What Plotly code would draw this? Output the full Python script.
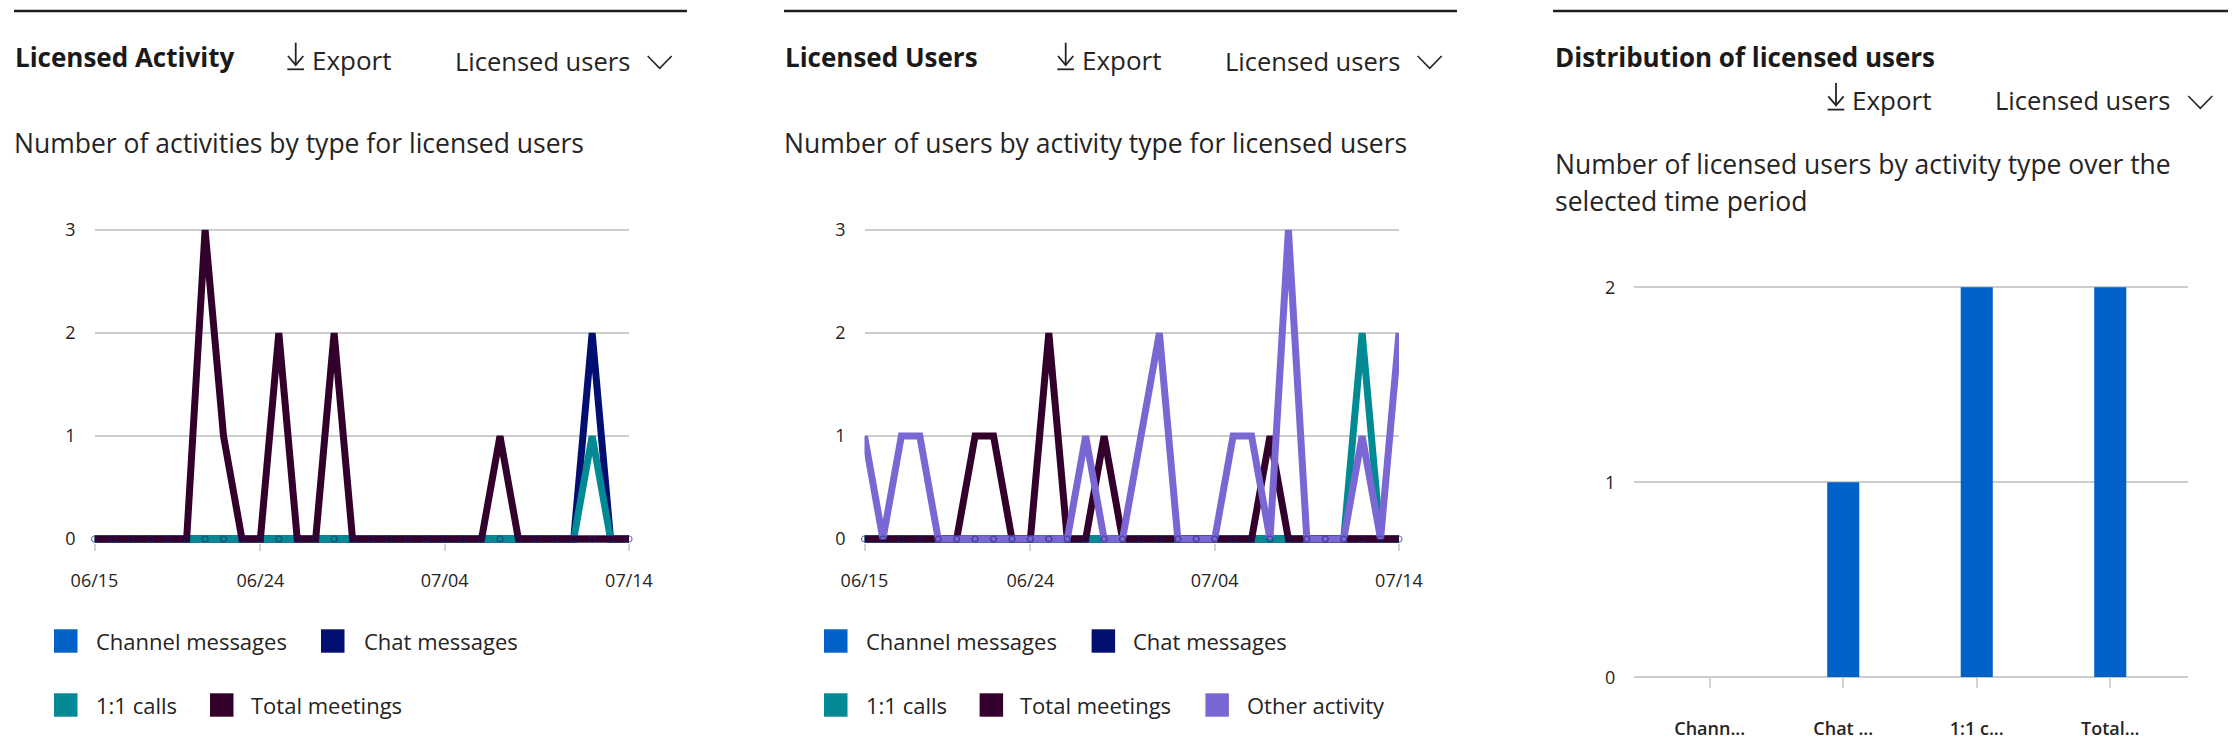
import plotly.graph_objects as go

W, H = 2239, 753
FONT = "Open Sans"
TXT = "#252423"
GRID = "#CDCDCD"

# ---------------- data ----------------
dates = [
    "2023-06-15", "2023-06-16", "2023-06-17", "2023-06-18", "2023-06-19", "2023-06-20",
    "2023-06-21", "2023-06-22", "2023-06-23", "2023-06-24", "2023-06-25", "2023-06-26",
    "2023-06-27", "2023-06-28", "2023-06-29", "2023-06-30", "2023-07-01", "2023-07-02",
    "2023-07-03", "2023-07-04", "2023-07-05", "2023-07-06", "2023-07-07", "2023-07-08",
    "2023-07-09", "2023-07-10", "2023-07-11", "2023-07-12", "2023-07-13", "2023-07-14",
]
tick_dates = ["2023-06-15", "2023-06-24", "2023-07-04", "2023-07-14"]
tick_labels = ["06/15", "06/24", "07/04", "07/14"]

# Licensed Activity (number of activities)
act_channel = [0, 0, 0, 0, 0, 0, 0, 0, 0, 0, 0, 0, 0, 0, 0, 0, 0, 0, 0, 0, 0, 0, 0, 0, 0, 0, 0, 0, 0, 0]
act_chat = [0, 0, 0, 0, 0, 0, 0, 0, 0, 0, 0, 0, 0, 0, 0, 0, 0, 0, 0, 0, 0, 0, 0, 0, 0, 0, 0, 2, 0, 0]
act_calls = [0, 0, 0, 0, 0, 0, 0, 0, 0, 0, 0, 0, 0, 0, 0, 0, 0, 0, 0, 0, 0, 0, 0, 0, 0, 0, 0, 1, 0, 0]
act_meetings = [0, 0, 0, 0, 0, 0, 3, 1, 0, 0, 2, 0, 0, 2, 0, 0, 0, 0, 0, 0, 0, 0, 1, 0, 0, 0, 0, 0, 0, 0]

# Licensed Users (number of users)
usr_channel = [0, 0, 0, 0, 0, 0, 0, 0, 0, 0, 0, 0, 0, 0, 0, 0, 0, 0, 0, 0, 0, 0, 0, 0, 0, 0, 0, 0, 0, 0]
usr_chat = [0, 0, 0, 0, 0, 0, 0, 0, 0, 0, 0, 0, 0, 0, 0, 0, 0, 0, 0, 0, 0, 0, 0, 0, 0, 0, 0, 0, 0, 0]
usr_calls = [0, 0, 0, 0, 0, 0, 0, 0, 0, 0, 0, 0, 0, 0, 0, 0, 0, 0, 0, 0, 0, 0, 0, 0, 0, 0, 0, 2, 0, 0]
usr_meetings = [0, 0, 0, 0, 0, 0, 1, 1, 0, 0, 2, 0, 0, 1, 0, 0, 0, 0, 0, 0, 0, 0, 1, 0, 0, 0, 0, 0, 0, 0]
usr_other = [1, 0, 1, 1, 0, 0, 0, 0, 0, 0, 0, 0, 1, 0, 0, 1, 2, 0, 0, 0, 1, 1, 0, 3, 0, 0, 0, 1, 0, 2]

# Distribution of licensed users
dist_categories = ["Channel messages", "Chat messages", "1:1 calls", "Total meetings"]
dist_labels = ["Chann...", "Chat ...", "1:1 c...", "Total..."]
dist_values = [0, 1, 2, 2]

series_names = ["Channel messages", "Chat messages", "1:1 calls", "Total meetings", "Other activity"]
COLORS = {
    "Channel messages": "#0061C6",
    "Chat messages": "#020F70",
    "1:1 calls": "#018A93",
    "Total meetings": "#32002A",
    "Other activity": "#7B67D3",
}


def px(x):
    return x / W


def py(y):
    return 1 - y / H


fig = go.Figure()


def add_lines(series, xa, ya):
    for name, vals in series:
        fig.add_trace(go.Scatter(
            x=dates, y=vals, name=name, mode="lines",
            line=dict(color=COLORS[name], width=7),
            xaxis=xa, yaxis=ya, showlegend=False, hoverinfo="x+y+name",
        ))
    # point markers of the base series drawn on top
    fig.add_trace(go.Scatter(
        x=dates, y=series[0][1], mode="markers",
        marker=dict(symbol="circle-open", size=6, color="rgba(20,30,110,0.6)", line=dict(width=1.2)),
        xaxis=xa, yaxis=ya, showlegend=False, hoverinfo="skip", cliponaxis=False,
    ))


add_lines([("Channel messages", act_channel), ("Chat messages", act_chat),
           ("1:1 calls", act_calls), ("Total meetings", act_meetings)], "x", "y")
add_lines([("Channel messages", usr_channel), ("Chat messages", usr_chat),
           ("1:1 calls", usr_calls), ("Total meetings", usr_meetings),
           ("Other activity", usr_other)], "x2", "y2")

fig.add_trace(go.Bar(
    x=dist_categories, y=dist_values, marker=dict(color=COLORS["Channel messages"], line=dict(width=0)),
    width=0.24, xaxis="x3", yaxis="y3", showlegend=False,
))

# ---------------- axes ----------------
line_ydom = [py(543.12), py(223.82)]
tickfont = dict(family=FONT, size=18, color=TXT)


def date_xaxis(x0, x1, anchor):
    return dict(
        domain=[px(x0), px(x1)], anchor=anchor, type="date", automargin=False,
        range=[dates[0], dates[-1]], tickmode="array", tickvals=tick_dates, ticktext=tick_labels,
        ticks="outside", ticklen=7, tickwidth=2, tickcolor="#D4D4D4",
        showgrid=False, zeroline=False, showline=False,
        tickfont=tickfont, ticklabelstandoff=14, fixedrange=True,
    )


def count_yaxis(dom, rng, vals, anchor):
    return dict(
        domain=dom, anchor=anchor, range=rng, tickmode="array", tickvals=vals, automargin=False,
        showgrid=True, gridcolor=GRID, gridwidth=2, zeroline=False, showline=False,
        ticks="", tickfont=tickfont, ticklabelstandoff=18, fixedrange=True,
    )


fig.update_layout(
    xaxis=date_xaxis(94.5, 629.0, "y"),
    yaxis=count_yaxis(line_ydom, [-0.04, 3.06], [0, 1, 2, 3], "x"),
    xaxis2=date_xaxis(864.5, 1399.0, "y2"),
    yaxis2=count_yaxis(line_ydom, [-0.04, 3.06], [0, 1, 2, 3], "x2"),
    xaxis3=dict(
        domain=[px(1634.3), px(2187.7)], anchor="y3", type="category", automargin=False,
        categoryorder="array", categoryarray=dist_categories,
        tickmode="array", tickvals=dist_categories, ticktext=dist_labels,
        range=[-0.565, 3.58], ticks="outside", ticklen=10, tickwidth=2, tickcolor="#D4D4D4",
        showgrid=False, zeroline=False, showline=False,
        tickfont=dict(family=FONT, size=18, color=TXT, weight=600),
        ticklabelstandoff=25, fixedrange=True,
    ),
    yaxis3=dict(
        domain=[py(677.3), py(283.4)], anchor="x3", range=[0, 2.02], tickmode="array",
        tickvals=[0, 1, 2], showgrid=True, gridcolor=GRID, gridwidth=2, automargin=False,
        zeroline=True, zerolinecolor=GRID, zerolinewidth=2, showline=False,
        ticks="", tickfont=tickfont, ticklabelstandoff=18, fixedrange=True,
    ),
)

# ---------------- header texts ----------------
annotations = []
shapes = []


def text(x, y, s, size=26, weight=400, color=TXT):
    annotations.append(dict(
        xref="paper", yref="paper", x=px(x), y=py(y), text=s, showarrow=False,
        xanchor="left", yanchor="middle",
        font=dict(family=FONT, size=size, color=color, weight=weight),
    ))


def seg(x0, y0, x1, y1, width=1.8, color="#252423"):
    shapes.append(dict(type="line", xref="paper", yref="paper",
                       x0=px(x0), y0=py(y0), x1=px(x1), y1=py(y1),
                       line=dict(color=color, width=width)))


def polyline(pts, width=1.8, color="#252423"):
    path = "M " + " L ".join(f"{px(a):.6f},{py(b):.6f}" for a, b in pts)
    shapes.append(dict(type="path", xref="paper", yref="paper", path=path,
                       line=dict(color=color, width=width)))


def export_icon(x0, yc):
    seg(x0 + 8.4, yc - 17, x0 + 8.4, yc + 5.3)
    polyline([(x0 + 0.7, yc - 3.7), (x0 + 8.4, yc + 5.3), (x0 + 16.0, yc - 3.7)])
    seg(x0, yc + 9.6, x0 + 16.7, yc + 9.6)


def chevron(x0, ytop):
    polyline([(x0, ytop), (x0 + 12, ytop + 12.3), (x0 + 24, ytop)], width=1.6)


# top rules
seg(14, 11, 687, 11, width=2.5, color="#1E1E1E")
seg(784, 11, 1457, 11, width=2.5, color="#1E1E1E")
seg(1553, 11, 2228, 11, width=2.5, color="#1E1E1E")

SUB = 26.5
DROP = 25.5

# panel 1
text(13, 57, "Licensed Activity", weight=700, color="#1B1A19")
export_icon(287.3, 59.7)
text(310, 60, "Export")
text(453, 61, "Licensed users", size=DROP)
chevron(647.7, 56)
text(12, 143, "Number of activities by type for licensed users", size=SUB)

# panel 2
text(783, 57, "Licensed Users", weight=700, color="#1B1A19")
export_icon(1057.3, 59.7)
text(1080, 60, "Export")
text(1223, 61, "Licensed users", size=DROP)
chevron(1417.7, 56)
text(782, 143, "Number of users by activity type for licensed users", size=SUB)

# panel 3
text(1553, 57, "Distribution of licensed users", weight=700, color="#1B1A19")
export_icon(1827.6, 100)
text(1850, 100, "Export")
text(1993, 100, "Licensed users", size=DROP)
chevron(2188.3, 96)
text(1553, 164, "Number of licensed users by activity type over the", size=SUB)
text(1553, 201, "selected time period", size=SUB)


# ---------------- legends ----------------
def legend_item(xs, xt, yc, name):
    shapes.append(dict(type="rect", xref="paper", yref="paper",
                       x0=px(xs), x1=px(xs + 23.5), y0=py(yc + 11.7), y1=py(yc - 11.7),
                       fillcolor=COLORS[name], line=dict(width=0)))
    annotations.append(dict(
        xref="paper", yref="paper", x=px(xt - 1), y=py(yc), text=name, showarrow=False,
        xanchor="left", yanchor="middle", font=dict(family=FONT, size=22, color=TXT),
    ))


legend_item(54, 95.3, 641, series_names[0])
legend_item(321, 362.6, 641, series_names[1])
legend_item(54, 95.3, 705, series_names[2])
legend_item(210, 250, 705, series_names[3])

legend_item(824, 865, 641, series_names[0])
legend_item(1091.6, 1132, 641, series_names[1])
legend_item(824, 865, 705, series_names[2])
legend_item(979.6, 1018.5, 705, series_names[3])
legend_item(1205.4, 1246, 705, series_names[4])

fig.update_layout(
    width=W, height=H, autosize=False,
    margin=dict(l=0, r=0, t=0, b=0, pad=0, autoexpand=False),
    paper_bgcolor="white", plot_bgcolor="white",
    font=dict(family=FONT, color=TXT),
    annotations=annotations, shapes=shapes,
    showlegend=False,
)

fig.write_html("out.html", config={"displayModeBar": False})
